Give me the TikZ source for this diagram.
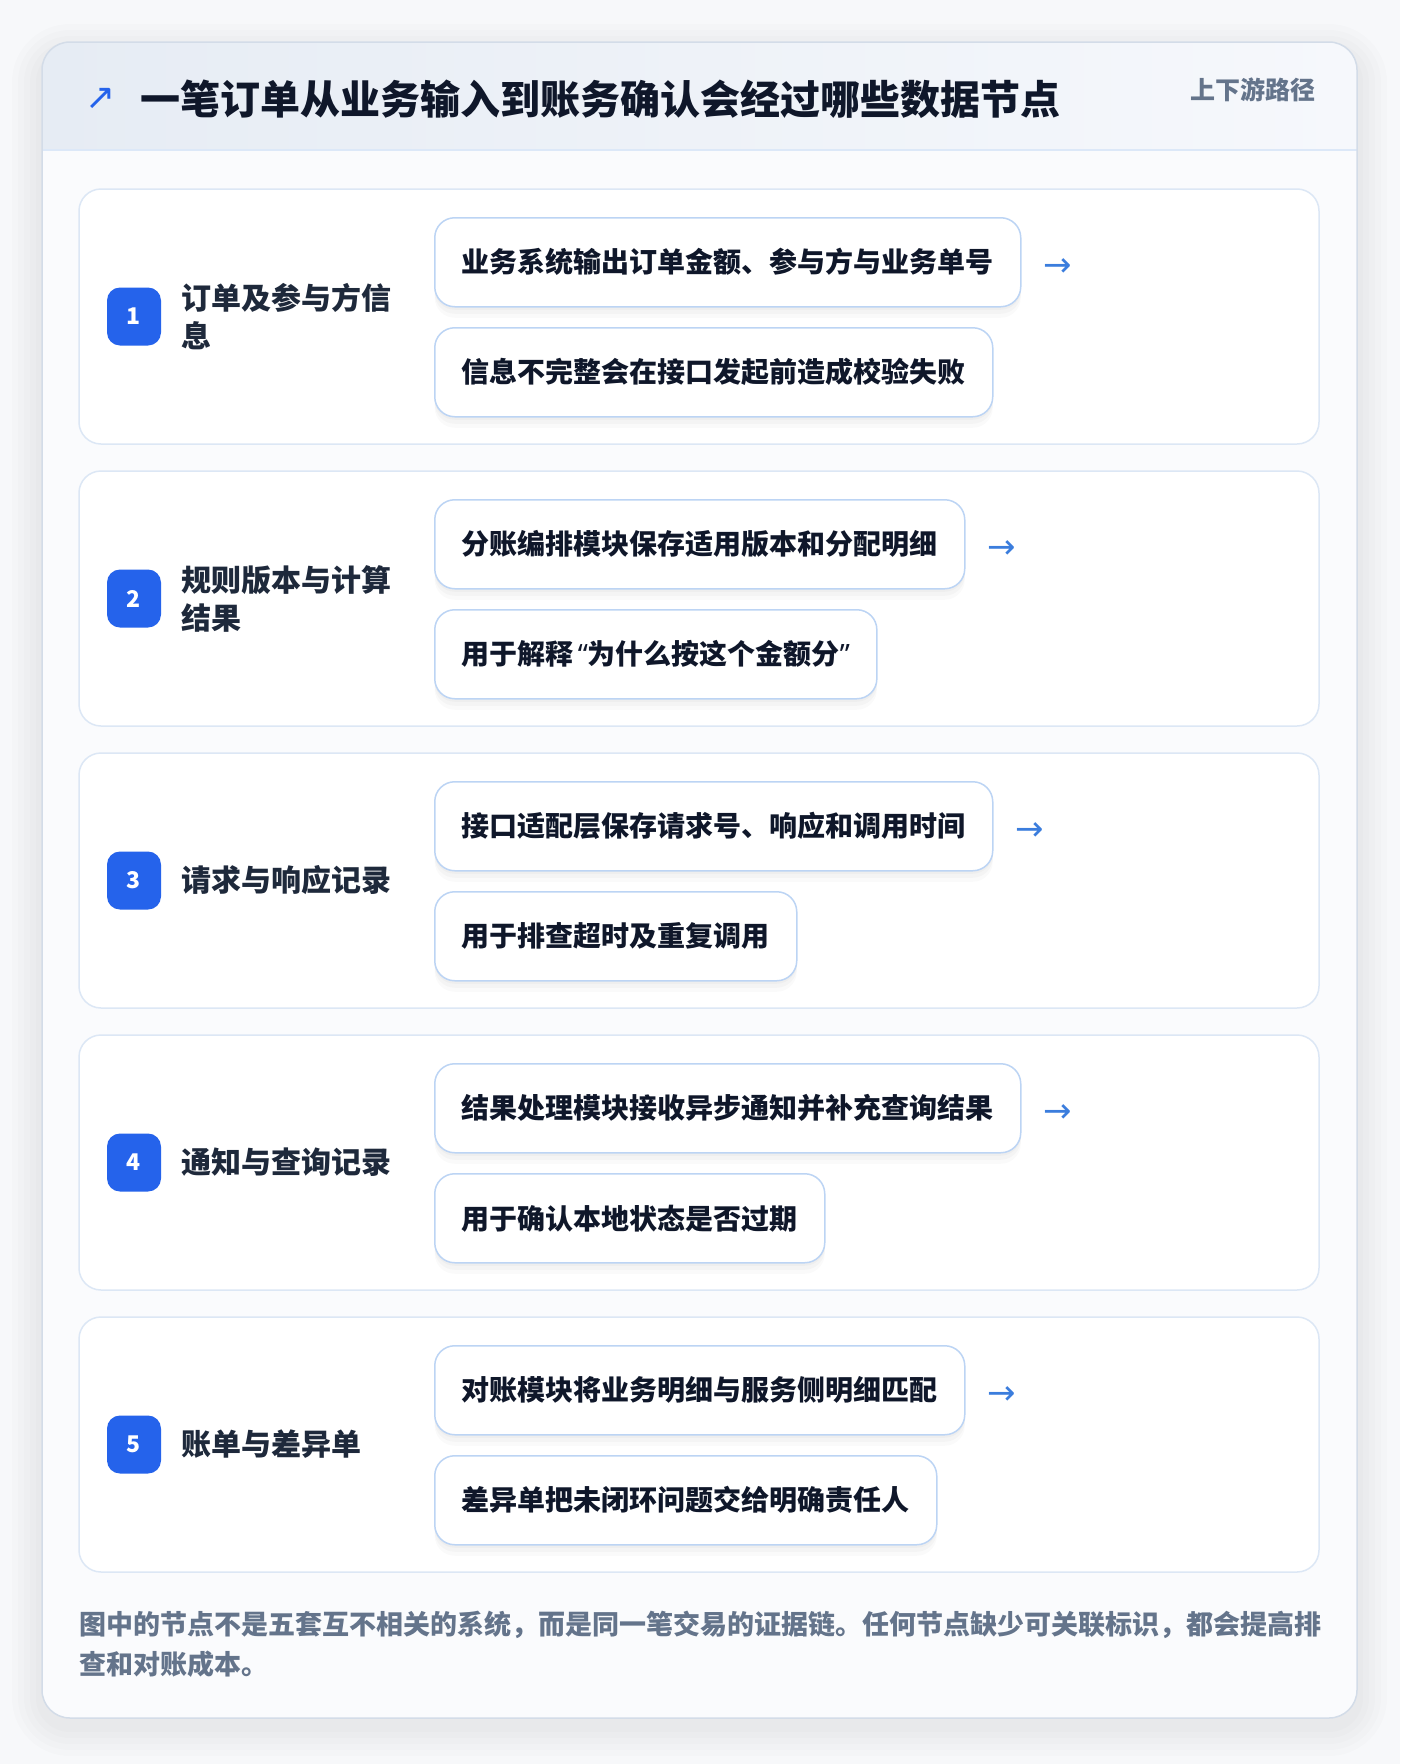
\documentclass[tikz,border=0pt]{standalone}
\usepackage{fontspec}
\setmainfont{Noto Sans CJK SC}
\newfontfamily\symfont{DejaVu Sans}
\newfontfamily\latinfont{Noto Sans}
\usetikzlibrary{positioning}
\definecolor{pagebg}{HTML}{F7F8FA}
\definecolor{bodybg}{HTML}{FAFBFD}
\definecolor{headl}{HTML}{E6ECF4}
\definecolor{headr}{HTML}{F6F8FC}
\definecolor{headline}{HTML}{DCE8F8}
\definecolor{outline}{HTML}{D3DCE8}
\definecolor{cardline}{HTML}{DCE7F5}
\definecolor{boxline}{HTML}{BCD4F4}
\definecolor{badgeblue}{HTML}{2563EB}
\definecolor{arrowblue}{HTML}{3B7DDD}
\definecolor{ink}{HTML}{0F172A}
\definecolor{labelink}{HTML}{1E293B}
\definecolor{muted}{HTML}{64748B}
\tikzset{
  card/.style={draw=cardline,fill=white,rounded corners=22pt,line width=1.5pt},
  softshadow/.style={
    preaction={fill=black,opacity=0.025,transform canvas={yshift=-3pt}},
    preaction={fill=black,opacity=0.025,transform canvas={yshift=-7pt}},
    preaction={fill=black,opacity=0.02,transform canvas={yshift=-11pt}}},
  itembox/.style={draw=boxline,fill=white,rounded corners=20pt,line width=1.5pt,
    minimum height=89pt,inner xsep=27pt,inner ysep=0pt,anchor=north west,text=ink,
    font=\bfseries\fontsize{28}{34}\selectfont,softshadow},
  badge/.style={fill=badgeblue,rounded corners=13pt,minimum width=54pt,minimum height=58pt,
    inner sep=0pt,text=white,font=\bfseries\fontsize{23}{23}\selectfont},
  rowlabel/.style={anchor=west,align=left,inner sep=0pt,text=labelink,
    font=\bfseries\fontsize{30}{38}\selectfont},
  flowarrow/.style={inner sep=0pt,text=arrowblue,font=\symfont\fontsize{34}{34}\selectfont},
}
\newcommand{\openq}{\hspace{4pt}{\latinfont“}}
\newcommand{\closeq}{{\latinfont”}\hspace{4pt}}
\begin{document}
\begin{tikzpicture}[x=1pt,y=-1pt]
\pgfmathsetmacro{\cardl}{42}
\pgfmathsetmacro{\cardr}{1357}
\pgfmathsetmacro{\cardt}{42}
\pgfmathsetmacro{\cardb}{1718}
\pgfmathsetmacro{\headb}{150}
\pgfmathsetmacro{\rowx}{79}
\pgfmathsetmacro{\roww}{1240}
\pgfmathsetmacro{\rowh}{255}
\pgfmathsetmacro{\rowsep}{282}
\pgfmathsetmacro{\boxx}{434}
\useasboundingbox[fill=pagebg](0,0) rectangle (1400,1764);
% soft shadow round the outer card
\foreach \g in {6,12,18,24,30}{
  \fill[black,opacity=0.012,rounded corners=28pt+\g pt](\cardl-\g,\cardt-\g+12) rectangle (\cardr+\g,\cardb+\g+8);
}
% outer card and header band
\fill[bodybg,rounded corners=28pt](\cardl,\cardt) rectangle (\cardr,\cardb);
\begin{scope}
\clip[rounded corners=28pt](\cardl,\cardt) rectangle (\cardr,\cardb);
\shade[left color=headl,right color=headr](\cardl,\cardt) rectangle (\cardr,\headb);
\end{scope}
\draw[headline,line width=2pt](\cardl,\headb)--(\cardr,\headb);
\draw[outline,line width=1.5pt,rounded corners=28pt](\cardl,\cardt) rectangle (\cardr,\cardb);
\node[anchor=west,inner sep=0pt,text=badgeblue,font=\symfont\fontsize{36}{36}\selectfont](icon) at (85,99){↗};
\node[anchor=west,inner sep=0pt,text=ink,font=\bfseries\fontsize{40}{40}\selectfont](title) at (140,99){一笔订单从业务输入到账务确认会经过哪些数据节点};
\node[anchor=east,inner sep=0pt,text=muted,font=\bfseries\fontsize{25}{25}\selectfont](tag) at (1316,90){上下游路径};
% five rows
\foreach \n/\lab/\ta/\tb in {
  1/{订单及参与方信\\息}/{业务系统输出订单金额、参与方与业务单号}/{信息不完整会在接口发起前造成校验失败},
  2/{规则版本与计算\\结果}/{分账编排模块保存适用版本和分配明细}/{用于解释\openq 为什么按这个金额分\closeq},
  3/{请求与响应记录}/{接口适配层保存请求号、响应和调用时间}/{用于排查超时及重复调用},
  4/{通知与查询记录}/{结果处理模块接收异步通知并补充查询结果}/{用于确认本地状态是否过期},
  5/{账单与差异单}/{对账模块将业务明细与服务侧明细匹配}/{差异单把未闭环问题交给明确责任人}}{
  \pgfmathsetmacro{\rtop}{189+(\n-1)*\rowsep}
  \draw[card](\rowx,\rtop) rectangle ++(\roww,\rowh);
  \node[badge](badge\n) at (134,\rtop+127.5){\n};
  \node[rowlabel,right=20pt of badge\n](label\n){\lab};
  \node[itembox](top\n) at (\boxx,\rtop+28){\ta};
  \node[itembox](bot\n) at (\boxx,\rtop+138){\tb};
  \node[flowarrow,right=22pt of top\n,yshift=-5pt](arr\n){→};
}
% closing note
\node[anchor=north west,align=left,inner sep=0pt,text=muted,font=\bfseries\fontsize{27}{40}\selectfont](note) at (\rowx,1611){图中的节点不是五套互不相关的系统，而是同一笔交易的证据链。任何节点缺少可关联标识，都会提高排\\查和对账成本。};
\end{tikzpicture}
\end{document}
